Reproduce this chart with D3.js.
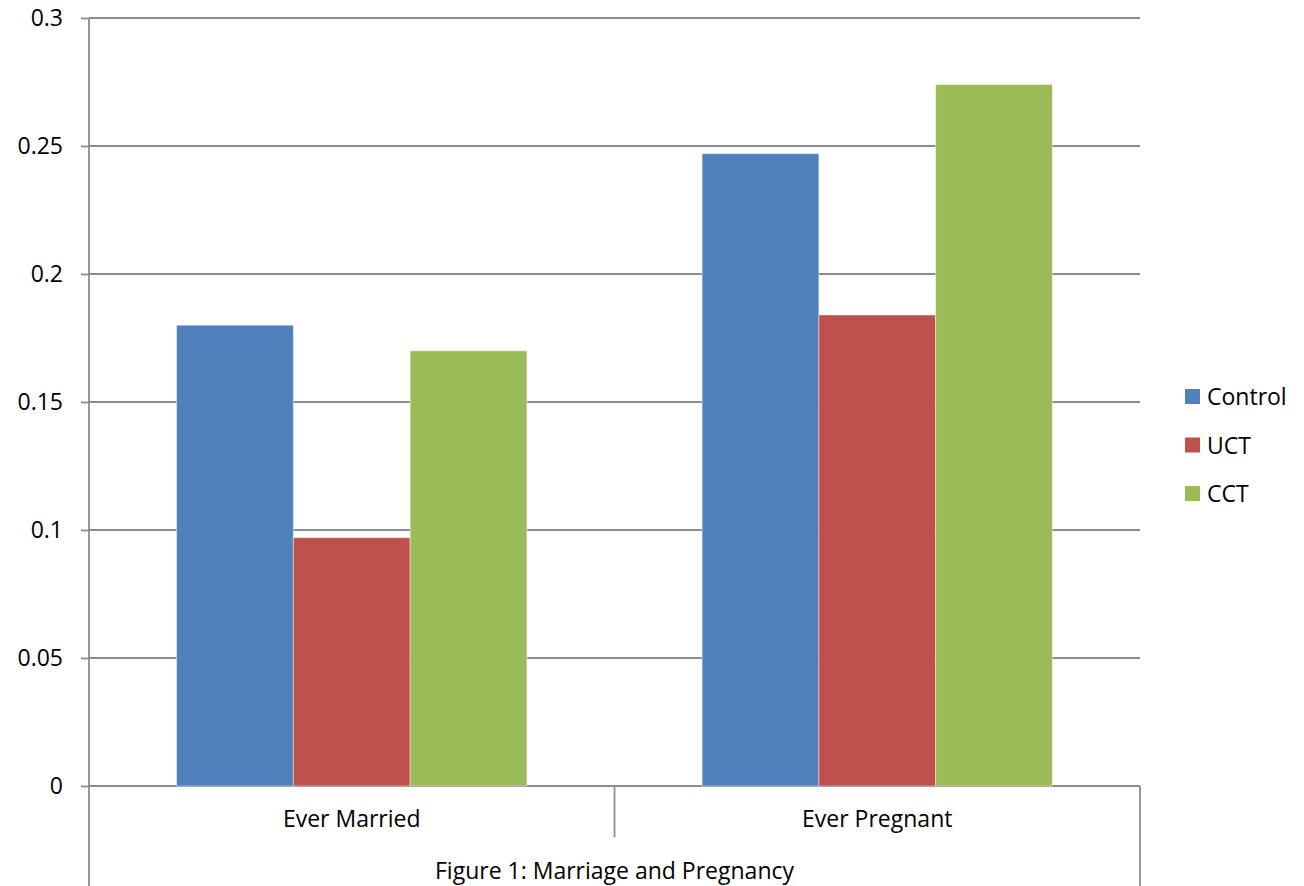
<!DOCTYPE html>
<html>
<head>
<meta charset="utf-8">
<script src="https://cdn.jsdelivr.net/npm/d3@7"></script>
<style>
  html, body { margin: 0; padding: 0; background: #fff; }
  svg { display: block; }
  text { font-family: "Open Sans", "DejaVu Sans", sans-serif; fill: #000; }
</style>
</head>
<body>
<svg id="chart" width="1304" height="886"></svg>
<script>
// Outcome categories, treatment arms and their shares
const categories = ["Ever Married", "Ever Pregnant"];
const seriesNames = ["Control", "UCT", "CCT"];
const controlValues = [0.180, 0.247];
const uctValues = [0.097, 0.184];
const cctValues = [0.170, 0.274];
const yTickValues = [0, 0.05, 0.1, 0.15, 0.2, 0.25, 0.3];
const yTickLabels = ["0", "0.05", "0.1", "0.15", "0.2", "0.25", "0.3"];
const groupTitle = "Figure 1: Marriage and Pregnancy";

const seriesColors = ["#4F81BD", "#C0504D", "#9BBB59"];
const seriesValues = [controlValues, uctValues, cctValues];

const svg = d3.select("#chart");
const plot = { left: 89, right: 1140, top: 18, bottom: 786 };
const gridColor = "#8c8c8c";
const fontSize = 23;

const y = d3.scaleLinear().domain([0, 0.3]).range([plot.bottom, plot.top]);
const x0 = d3.scaleBand().domain(categories).range([plot.left, plot.right]).padding(0);
const x1 = d3.scaleBand().domain(seriesNames).range([0, x0.bandwidth()])
  .paddingInner(0).paddingOuter(0.75);

// Horizontal gridlines
svg.append("g")
  .selectAll("line")
  .data(yTickValues)
  .join("line")
  .attr("x1", plot.left).attr("x2", plot.right)
  .attr("y1", d => y(d)).attr("y2", d => y(d))
  .attr("stroke", gridColor).attr("stroke-width", 1.8);

// Bars
const rows = categories.map((c, i) => ({
  category: c,
  values: seriesNames.map((s, j) => ({ series: s, value: seriesValues[j][i], color: seriesColors[j] }))
}));

svg.append("g")
  .selectAll("g")
  .data(rows)
  .join("g")
  .attr("transform", d => `translate(${x0(d.category)},0)`)
  .selectAll("rect")
  .data(d => d.values)
  .join("rect")
  .attr("x", d => x1(d.series))
  .attr("width", x1.bandwidth())
  .attr("y", d => y(d.value))
  .attr("height", d => y(0) - y(d.value))
  .attr("fill", d => d.color)
  .attr("stroke", "rgba(255,255,255,0.45)")
  .attr("stroke-width", 1);

// Value axis
const yAxis = d3.axisLeft(y)
  .tickValues(yTickValues)
  .tickFormat((d, i) => yTickLabels[i])
  .tickSize(8)
  .tickPadding(18);

const yg = svg.append("g")
  .attr("transform", `translate(${plot.left},0)`)
  .call(yAxis);
yg.select(".domain").remove();
yg.selectAll(".tick line").attr("stroke", gridColor).attr("stroke-width", 1.8);
yg.selectAll(".tick text")
  .attr("font-family", "Open Sans")
  .attr("font-size", fontSize)
  .attr("fill", "#000");

// Axis frame: the value axis line runs down through both label rows
const frame = svg.append("g").attr("stroke", gridColor).attr("stroke-width", 1.8);
frame.append("line")
  .attr("x1", plot.left).attr("x2", plot.left)
  .attr("y1", plot.top).attr("y2", 886);
frame.append("line")
  .attr("x1", plot.right).attr("x2", plot.right)
  .attr("y1", plot.bottom).attr("y2", 886);
// Separators between categories (first label row only)
frame.selectAll("line.sep")
  .data(categories.slice(1))
  .join("line")
  .attr("class", "sep")
  .attr("x1", d => x0(d)).attr("x2", d => x0(d))
  .attr("y1", plot.bottom).attr("y2", 837);

// Category labels
svg.append("g")
  .selectAll("text")
  .data(categories)
  .join("text")
  .attr("x", d => x0(d) + x0.bandwidth() / 2)
  .attr("y", 827)
  .attr("text-anchor", "middle")
  .attr("font-size", fontSize)
  .text(d => d);

// Group label row
svg.append("text")
  .attr("x", (plot.left + plot.right) / 2)
  .attr("y", 879)
  .attr("text-anchor", "middle")
  .attr("font-size", fontSize)
  .text(groupTitle);

// Legend
const legend = svg.append("g").attr("transform", "translate(1185,389)");
const items = legend.selectAll("g")
  .data(seriesNames)
  .join("g")
  .attr("transform", (d, i) => `translate(0,${i * 48.5})`);
items.append("rect")
  .attr("width", 15).attr("height", 15)
  .attr("fill", (d, i) => seriesColors[i]);
items.append("text")
  .attr("x", 22).attr("y", 16)
  .attr("font-size", fontSize)
  .text(d => d);
</script>
</body>
</html>
